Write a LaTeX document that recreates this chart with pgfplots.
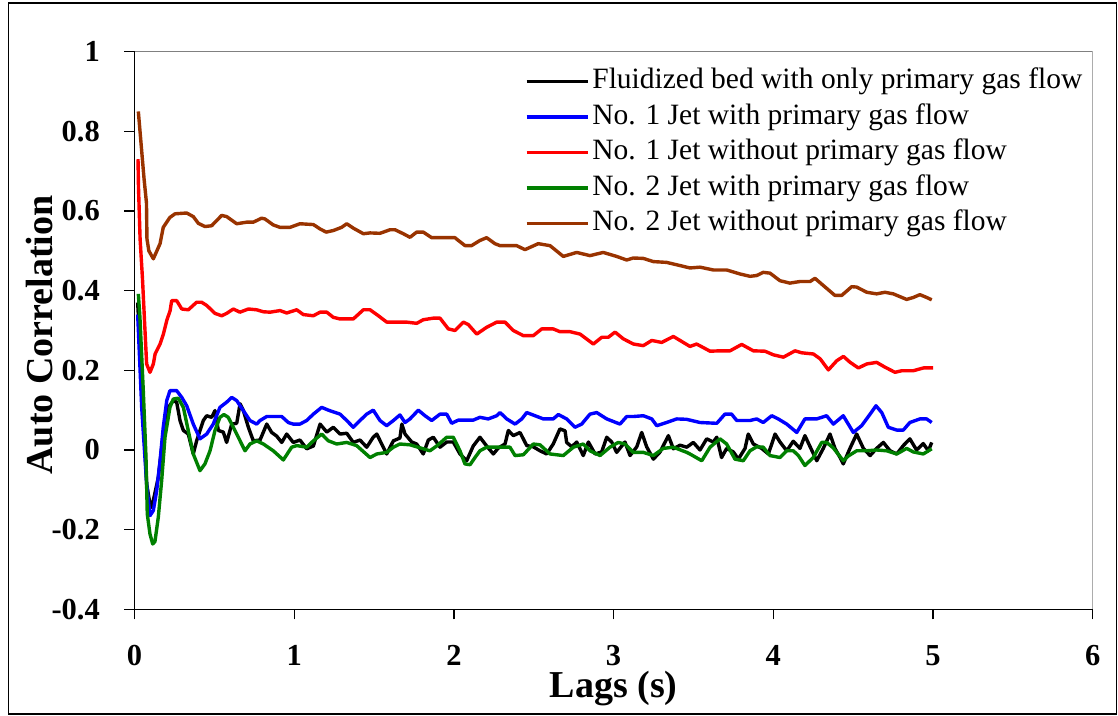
\documentclass[border=0pt]{standalone}
\usepackage{fontspec}
\setmainfont{Liberation Serif}
\usepackage{pgfplots}
\pgfplotsset{compat=1.18}
\definecolor{jetbrown}{RGB}{153,51,0}
\definecolor{jetgreen}{RGB}{0,128,0}
\definecolor{jetblue}{RGB}{0,0,255}
\definecolor{jetred}{RGB}{255,0,0}
\begin{document}
\begin{tikzpicture}
\useasboundingbox (0,0) rectangle (1118pt,715pt);
\draw[black, line width=1.2pt] (8.5pt,1pt) rectangle (1116.5pt,712pt);
\begin{axis}[
  at={(134.5pt,105.7pt)}, anchor=south west,
  scale only axis, width=958.2pt, height=557.6pt,
  xmin=0, xmax=6, ymin=-0.4, ymax=1,
  axis lines=left, axis line style={-, line width=1.3pt, black},
  tick align=outside, major tick length=10pt,
  tick style={black, line width=1.3pt},
  xtick={0,1,2,3,4,5,6}, xticklabels={0,1,2,3,4,5,6},
  ytick={-0.4,-0.2,0,0.2,0.4,0.6,0.8,1},
  yticklabels={-0.4,-0.2,0,0.2,0.4,0.6,0.8,1},
  yticklabel style={font=\bfseries\fontsize{30.5}{31}\selectfont, inner sep=0pt, anchor=east, xshift=-24.5pt},
  xticklabel style={font=\bfseries\fontsize{30.5}{31}\selectfont, inner sep=0pt, anchor=north, yshift=-26pt},
  xlabel={Lags (s)}, ylabel={Auto Correlation},
  label style={font=\bfseries\fontsize{38}{40}\selectfont, inner sep=0pt},
  xlabel style={at={(axis description cs:0.5,-0.1575)}, anchor=base},
  ylabel style={at={(axis description cs:-0.0851,0.492)}, anchor=base},
  legend style={draw=none, fill=none, at={(rel axis cs:0.4075,0.9708)}, anchor=north west,
    inner sep=0pt, outer sep=0pt, font=\fontsize{29.5}{35}\selectfont, row sep=8.5pt,
    nodes={inner sep=0pt, text height=21pt, text depth=6pt}},
  legend cell align=left,
  legend image code/.code={\draw[#1, line width=3.4pt] (0pt,0pt) -- (61pt,0pt); \path (64pt,0pt);},
  every axis plot/.append style={line width=3.4pt, line join=round},
]
% Fluidized bed with only primary gas flow
\addplot[black, no markers] coordinates {
(0.02,0.37) (0.055,0.099) (0.076,-0.085) (0.097,-0.136) (0.108,-0.144) (0.122,-0.119) (0.149,-0.069) (0.18,0.04) (0.212,0.107) (0.243,0.124) (0.264,0.12) (0.285,0.074) (0.306,0.049) (0.337,0.04) (0.368,-0.01) (0.389,0.023) (0.431,0.074) (0.452,0.086) (0.483,0.082) (0.504,0.099) (0.525,0.049) (0.556,0.045) (0.577,0.019) (0.609,0.065) (0.64,0.067) (0.661,0.116) (0.681,0.1) (0.713,0.057) (0.744,0.023) (0.786,0.025) (0.828,0.065) (0.859,0.044) (0.89,0.035) (0.922,0.019) (0.953,0.04) (0.994,0.019) (1.036,0.025) (1.078,0.003) (1.12,0.01) (1.162,0.065) (1.204,0.045) (1.245,0.057) (1.287,0.04) (1.329,0.042) (1.37,0.019) (1.412,0.025) (1.454,0.007) (1.495,0.032) (1.517,0.04) (1.548,0.015) (1.579,-0.01) (1.621,0.023) (1.662,0.03) (1.674,0.065) (1.694,0.04) (1.736,0.02) (1.767,0.015) (1.808,-0.01) (1.84,0.025) (1.871,0.032) (1.913,0.007) (1.955,0.02) (1.996,0.02) (2.038,-0.01) (2.08,-0.027) (2.121,0.01) (2.163,0.032) (2.205,0.01) (2.247,-0.01) (2.278,0.005) (2.32,0.015) (2.341,0.049) (2.372,0.036) (2.414,0.044) (2.456,0.011) (2.497,0.008) (2.539,-0.002) (2.581,-0.01) (2.622,0.015) (2.664,0.053) (2.696,0.048) (2.706,0.019) (2.738,0.008) (2.769,0.02) (2.81,-0.014) (2.842,0.02) (2.884,-0.01) (2.925,-0.005) (2.957,0.032) (2.988,0.02) (3.019,-0.006) (3.071,0.02) (3.103,-0.014) (3.145,0.008) (3.176,0.044) (3.207,0.008) (3.249,-0.023) (3.291,-0.005) (3.343,0.036) (3.374,0.003) (3.416,0.012) (3.458,0.007) (3.499,0.019) (3.541,0.0) (3.583,0.028) (3.624,0.02) (3.646,0.032) (3.676,-0.019) (3.708,0.004) (3.75,-0.005) (3.781,-0.023) (3.823,0.004) (3.843,0.04) (3.875,0.015) (3.927,0.004) (3.969,-0.01) (4.011,0.04) (4.042,0.02) (4.084,-0.002) (4.125,0.022) (4.167,0.004) (4.198,0.036) (4.24,0.0) (4.272,-0.027) (4.313,0.004) (4.355,0.04) (4.386,0.004) (4.418,-0.019) (4.438,-0.035) (4.48,0.004) (4.522,0.04) (4.564,0.004) (4.606,-0.014) (4.647,0.004) (4.689,0.019) (4.731,-0.002) (4.773,-0.01) (4.814,0.011) (4.855,0.028) (4.897,0.0) (4.939,0.016) (4.971,-0.002) (4.992,0.019)
};
\addlegendentry{Fluidized bed with only primary gas flow}
% No. 1 Jet with primary gas flow
\addplot[jetblue, no markers] coordinates {
(0.02,0.34) (0.045,0.107) (0.076,-0.085) (0.097,-0.165) (0.118,-0.152) (0.139,-0.102) (0.16,-0.027) (0.18,0.057) (0.202,0.124) (0.222,0.149) (0.264,0.149) (0.296,0.132) (0.327,0.111) (0.368,0.065) (0.41,0.028) (0.452,0.04) (0.493,0.065) (0.535,0.107) (0.577,0.12) (0.609,0.132) (0.64,0.124) (0.681,0.099) (0.723,0.074) (0.765,0.065) (0.786,0.074) (0.828,0.084) (0.869,0.084) (0.922,0.084) (0.963,0.069) (0.994,0.065) (1.036,0.065) (1.078,0.074) (1.12,0.09) (1.172,0.107) (1.214,0.1) (1.287,0.09) (1.329,0.074) (1.37,0.057) (1.412,0.074) (1.454,0.09) (1.495,0.1) (1.537,0.074) (1.579,0.061) (1.621,0.074) (1.662,0.088) (1.694,0.069) (1.725,0.078) (1.777,0.1) (1.819,0.086) (1.861,0.074) (1.913,0.09) (1.955,0.09) (1.986,0.067) (2.028,0.075) (2.121,0.075) (2.163,0.082) (2.215,0.078) (2.268,0.086) (2.289,0.094) (2.331,0.078) (2.383,0.065) (2.425,0.078) (2.456,0.094) (2.508,0.086) (2.56,0.078) (2.622,0.078) (2.654,0.089) (2.706,0.078) (2.758,0.057) (2.8,0.065) (2.852,0.09) (2.894,0.094) (2.957,0.078) (3.04,0.065) (3.082,0.084) (3.123,0.084) (3.186,0.086) (3.239,0.078) (3.27,0.061) (3.332,0.069) (3.395,0.078) (3.458,0.077) (3.478,0.075) (3.541,0.069) (3.646,0.067) (3.697,0.09) (3.739,0.09) (3.771,0.074) (3.854,0.074) (3.896,0.078) (3.937,0.069) (3.99,0.086) (4.031,0.078) (4.084,0.065) (4.147,0.044) (4.198,0.078) (4.272,0.078) (4.334,0.086) (4.376,0.065) (4.438,0.086) (4.501,0.044) (4.553,0.061) (4.606,0.09) (4.643,0.111) (4.679,0.094) (4.72,0.057) (4.773,0.05) (4.814,0.05) (4.855,0.069) (4.918,0.078) (4.96,0.078) (4.992,0.069)
};
\addlegendentry{No. 1 Jet with primary gas flow}
% No. 1 Jet without primary gas flow
\addplot[jetred, no markers] coordinates {
(0.022,0.73) (0.025,0.66) (0.035,0.53) (0.05,0.43) (0.062,0.33) (0.076,0.216) (0.097,0.195) (0.118,0.216) (0.129,0.241) (0.16,0.266) (0.181,0.291) (0.202,0.325) (0.223,0.35) (0.233,0.375) (0.264,0.375) (0.296,0.354) (0.337,0.352) (0.389,0.371) (0.42,0.371) (0.452,0.363) (0.504,0.343) (0.546,0.337) (0.577,0.343) (0.619,0.354) (0.66,0.346) (0.713,0.354) (0.765,0.352) (0.807,0.347) (0.849,0.346) (0.911,0.35) (0.953,0.344) (1.016,0.352) (1.057,0.34) (1.12,0.337) (1.162,0.346) (1.204,0.346) (1.245,0.333) (1.287,0.329) (1.37,0.329) (1.433,0.352) (1.475,0.352) (1.517,0.34) (1.58,0.321) (1.642,0.321) (1.705,0.321) (1.767,0.318) (1.808,0.327) (1.871,0.331) (1.913,0.331) (1.965,0.304) (2.007,0.30) (2.059,0.321) (2.09,0.315) (2.143,0.291) (2.205,0.308) (2.268,0.321) (2.32,0.321) (2.372,0.30) (2.435,0.287) (2.497,0.287) (2.55,0.304) (2.622,0.304) (2.664,0.297) (2.727,0.297) (2.79,0.291) (2.873,0.266) (2.926,0.283) (2.967,0.283) (3.009,0.296) (3.061,0.279) (3.124,0.266) (3.186,0.262) (3.239,0.275) (3.301,0.27) (3.374,0.285) (3.416,0.275) (3.478,0.26) (3.52,0.266) (3.604,0.248) (3.666,0.249) (3.729,0.249) (3.802,0.265) (3.875,0.249) (3.948,0.248) (4.0,0.239) (4.063,0.233) (4.136,0.249) (4.178,0.244) (4.251,0.241) (4.293,0.229) (4.345,0.201) (4.397,0.224) (4.439,0.235) (4.481,0.22) (4.533,0.206) (4.585,0.216) (4.647,0.22) (4.699,0.208) (4.762,0.195) (4.804,0.199) (4.877,0.199) (4.94,0.206) (5.0,0.206)
};
\addlegendentry{No. 1 Jet without primary gas flow}
% No. 2 Jet with primary gas flow
\addplot[jetgreen, no markers] coordinates {
(0.024,0.392) (0.034,0.333) (0.055,0.149) (0.072,-0.019) (0.08,-0.161) (0.097,-0.211) (0.114,-0.236) (0.128,-0.23) (0.149,-0.169) (0.17,-0.077) (0.191,0.032) (0.222,0.107) (0.243,0.128) (0.274,0.13) (0.306,0.107) (0.337,0.048) (0.368,-0.01) (0.41,-0.052) (0.441,-0.035) (0.473,-0.002) (0.504,0.049) (0.535,0.082) (0.56,0.089) (0.587,0.082) (0.619,0.057) (0.661,0.023) (0.692,-0.002) (0.723,0.015) (0.765,0.023) (0.807,0.015) (0.869,-0.002) (0.932,-0.025) (0.984,0.007) (1.016,0.011) (1.078,0.007) (1.12,0.023) (1.172,0.04) (1.214,0.023) (1.266,0.015) (1.329,0.019) (1.391,0.011) (1.475,-0.019) (1.517,-0.01) (1.579,-0.006) (1.621,0.007) (1.662,0.015) (1.725,0.013) (1.808,0.003) (1.85,-0.002) (1.892,0.01) (1.955,0.032) (1.996,0.032) (2.038,-0.002) (2.069,-0.035) (2.101,-0.037) (2.132,-0.019) (2.163,-0.002) (2.205,0.007) (2.289,0.007) (2.351,0.007) (2.383,-0.014) (2.435,-0.012) (2.497,0.015) (2.539,0.013) (2.602,-0.01) (2.685,-0.014) (2.748,0.007) (2.81,0.015) (2.852,-0.002) (2.915,-0.014) (2.977,0.007) (3.029,0.019) (3.071,0.015) (3.123,-0.006) (3.186,-0.006) (3.249,-0.014) (3.311,0.004) (3.374,0.007) (3.458,-0.006) (3.478,-0.01) (3.552,-0.027) (3.604,0.007) (3.666,0.028) (3.708,0.015) (3.76,-0.023) (3.812,-0.027) (3.854,-0.002) (3.896,0.008) (3.937,0.007) (3.979,-0.014) (4.042,-0.019) (4.084,-0.002) (4.125,-0.002) (4.157,-0.014) (4.198,-0.039) (4.25,-0.019) (4.303,0.019) (4.334,0.019) (4.376,0.005) (4.438,-0.027) (4.47,-0.015) (4.522,-0.002) (4.585,-0.002) (4.647,0.0) (4.71,-0.002) (4.773,-0.01) (4.835,0.004) (4.877,-0.005) (4.939,-0.01) (4.992,0.003)
};
\addlegendentry{No. 2 Jet with primary gas flow}
% No. 2 Jet without primary gas flow
\addplot[jetbrown, no markers] coordinates {
(0.024,0.85) (0.06,0.68) (0.075,0.62) (0.078,0.53) (0.09,0.50) (0.118,0.48) (0.16,0.518) (0.18,0.559) (0.222,0.584) (0.254,0.593) (0.327,0.595) (0.368,0.586) (0.40,0.569) (0.441,0.561) (0.483,0.563) (0.546,0.589) (0.577,0.586) (0.64,0.568) (0.703,0.572) (0.744,0.572) (0.796,0.582) (0.817,0.58) (0.869,0.565) (0.911,0.559) (0.974,0.559) (1.036,0.568) (1.12,0.566) (1.162,0.555) (1.2,0.547) (1.245,0.551) (1.297,0.559) (1.329,0.568) (1.37,0.557) (1.433,0.543) (1.475,0.545) (1.537,0.544) (1.6,0.553) (1.631,0.553) (1.683,0.543) (1.725,0.534) (1.767,0.547) (1.808,0.547) (1.861,0.533) (1.955,0.533) (2.007,0.533) (2.028,0.526) (2.07,0.513) (2.11,0.513) (2.163,0.526) (2.205,0.533) (2.257,0.518) (2.289,0.513) (2.32,0.513) (2.393,0.513) (2.445,0.503) (2.528,0.518) (2.602,0.513) (2.685,0.486) (2.769,0.496) (2.852,0.488) (2.935,0.496) (3.019,0.486) (3.082,0.477) (3.123,0.482) (3.186,0.481) (3.249,0.473) (3.332,0.471) (3.416,0.463) (3.478,0.457) (3.541,0.459) (3.624,0.452) (3.708,0.452) (3.791,0.442) (3.854,0.436) (3.896,0.438) (3.937,0.446) (3.979,0.444) (4.042,0.425) (4.104,0.419) (4.167,0.423) (4.23,0.423) (4.261,0.431) (4.313,0.413) (4.386,0.388) (4.428,0.388) (4.491,0.41) (4.522,0.409) (4.585,0.396) (4.647,0.392) (4.699,0.396) (4.751,0.392) (4.835,0.378) (4.877,0.383) (4.918,0.39) (4.96,0.383) (4.992,0.377)
};
\addlegendentry{No. 2 Jet without primary gas flow}
\draw[gray, line width=1.3pt] (rel axis cs:0,1) -- (rel axis cs:1,1) -- (rel axis cs:1,0);
\end{axis}
\end{tikzpicture}
\end{document}
